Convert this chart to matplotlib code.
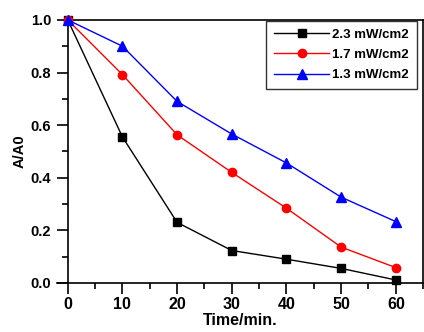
import matplotlib.pyplot as plt
from matplotlib.ticker import MultipleLocator

plt.rcParams.update({
    "font.family": "Liberation Sans",
    "font.weight": "bold",
})

time_min = [0, 10, 20, 30, 40, 50, 60]
a_23 = [1.0, 0.555, 0.23, 0.123, 0.09, 0.055, 0.011]
a_17 = [1.0, 0.792, 0.563, 0.42, 0.284, 0.136, 0.058]
a_13 = [1.0, 0.90, 0.69, 0.566, 0.456, 0.326, 0.233]
labels = ["2.3 mW/cm2", "1.7 mW/cm2", "1.3 mW/cm2"]

fig = plt.figure(figsize=(4.24, 3.32), dpi=100)
ax = fig.add_axes([0.134, 0.148, 0.864, 0.792])

ax.plot(time_min, a_23, color="black", marker="s", markersize=5.5,
        linewidth=1.0, label=labels[0], clip_on=False, zorder=3)
ax.plot(time_min, a_17, color="red", marker="o", markersize=6,
        linewidth=1.0, label=labels[1], clip_on=False, zorder=3)
ax.plot(time_min, a_13, color="blue", marker="^", markersize=6.5,
        linewidth=1.0, label=labels[2], clip_on=False, zorder=3)

ax.set_xlim(-2, 65)
ax.set_ylim(0, 1.0)
ax.spines["left"].set_position(("data", 0))
ax.spines["top"].set_bounds(0, 65)
for s in ax.spines.values():
    s.set_linewidth(1.2)

ax.xaxis.set_major_locator(MultipleLocator(10))
ax.xaxis.set_minor_locator(MultipleLocator(5))
ax.yaxis.set_major_locator(MultipleLocator(0.2))
ax.yaxis.set_minor_locator(MultipleLocator(0.1))
ax.tick_params(which="major", direction="out", length=8, width=1.2)
ax.tick_params(which="minor", direction="out", length=4.5, width=1.2)
ax.tick_params(axis="x", labelsize=11.5, pad=2)
ax.tick_params(axis="y", labelsize=10.5, pad=4)
ax.set_yticks([0.0, 0.2, 0.4, 0.6, 0.8, 1.0])
ax.set_yticklabels([f"{v:.1f}" for v in [0.0, 0.2, 0.4, 0.6, 0.8, 1.0]])
ax.set_xticks([0, 10, 20, 30, 40, 50, 60])

ax.set_xlabel("Time/min.", fontsize=11.5, fontweight="bold", labelpad=1)
ax.set_ylabel("A/A0", fontsize=10.5, fontweight="bold", labelpad=3)

leg = ax.legend(loc="upper right", bbox_to_anchor=(0.982, 0.997), fontsize=9.5,
                frameon=True, fancybox=False, edgecolor="black",
                handlelength=4.2, borderpad=0.6, labelspacing=0.6,
                handletextpad=0.2, borderaxespad=0)
leg.get_frame().set_linewidth(1.0)

fig.savefig("out.png", dpi=100)
